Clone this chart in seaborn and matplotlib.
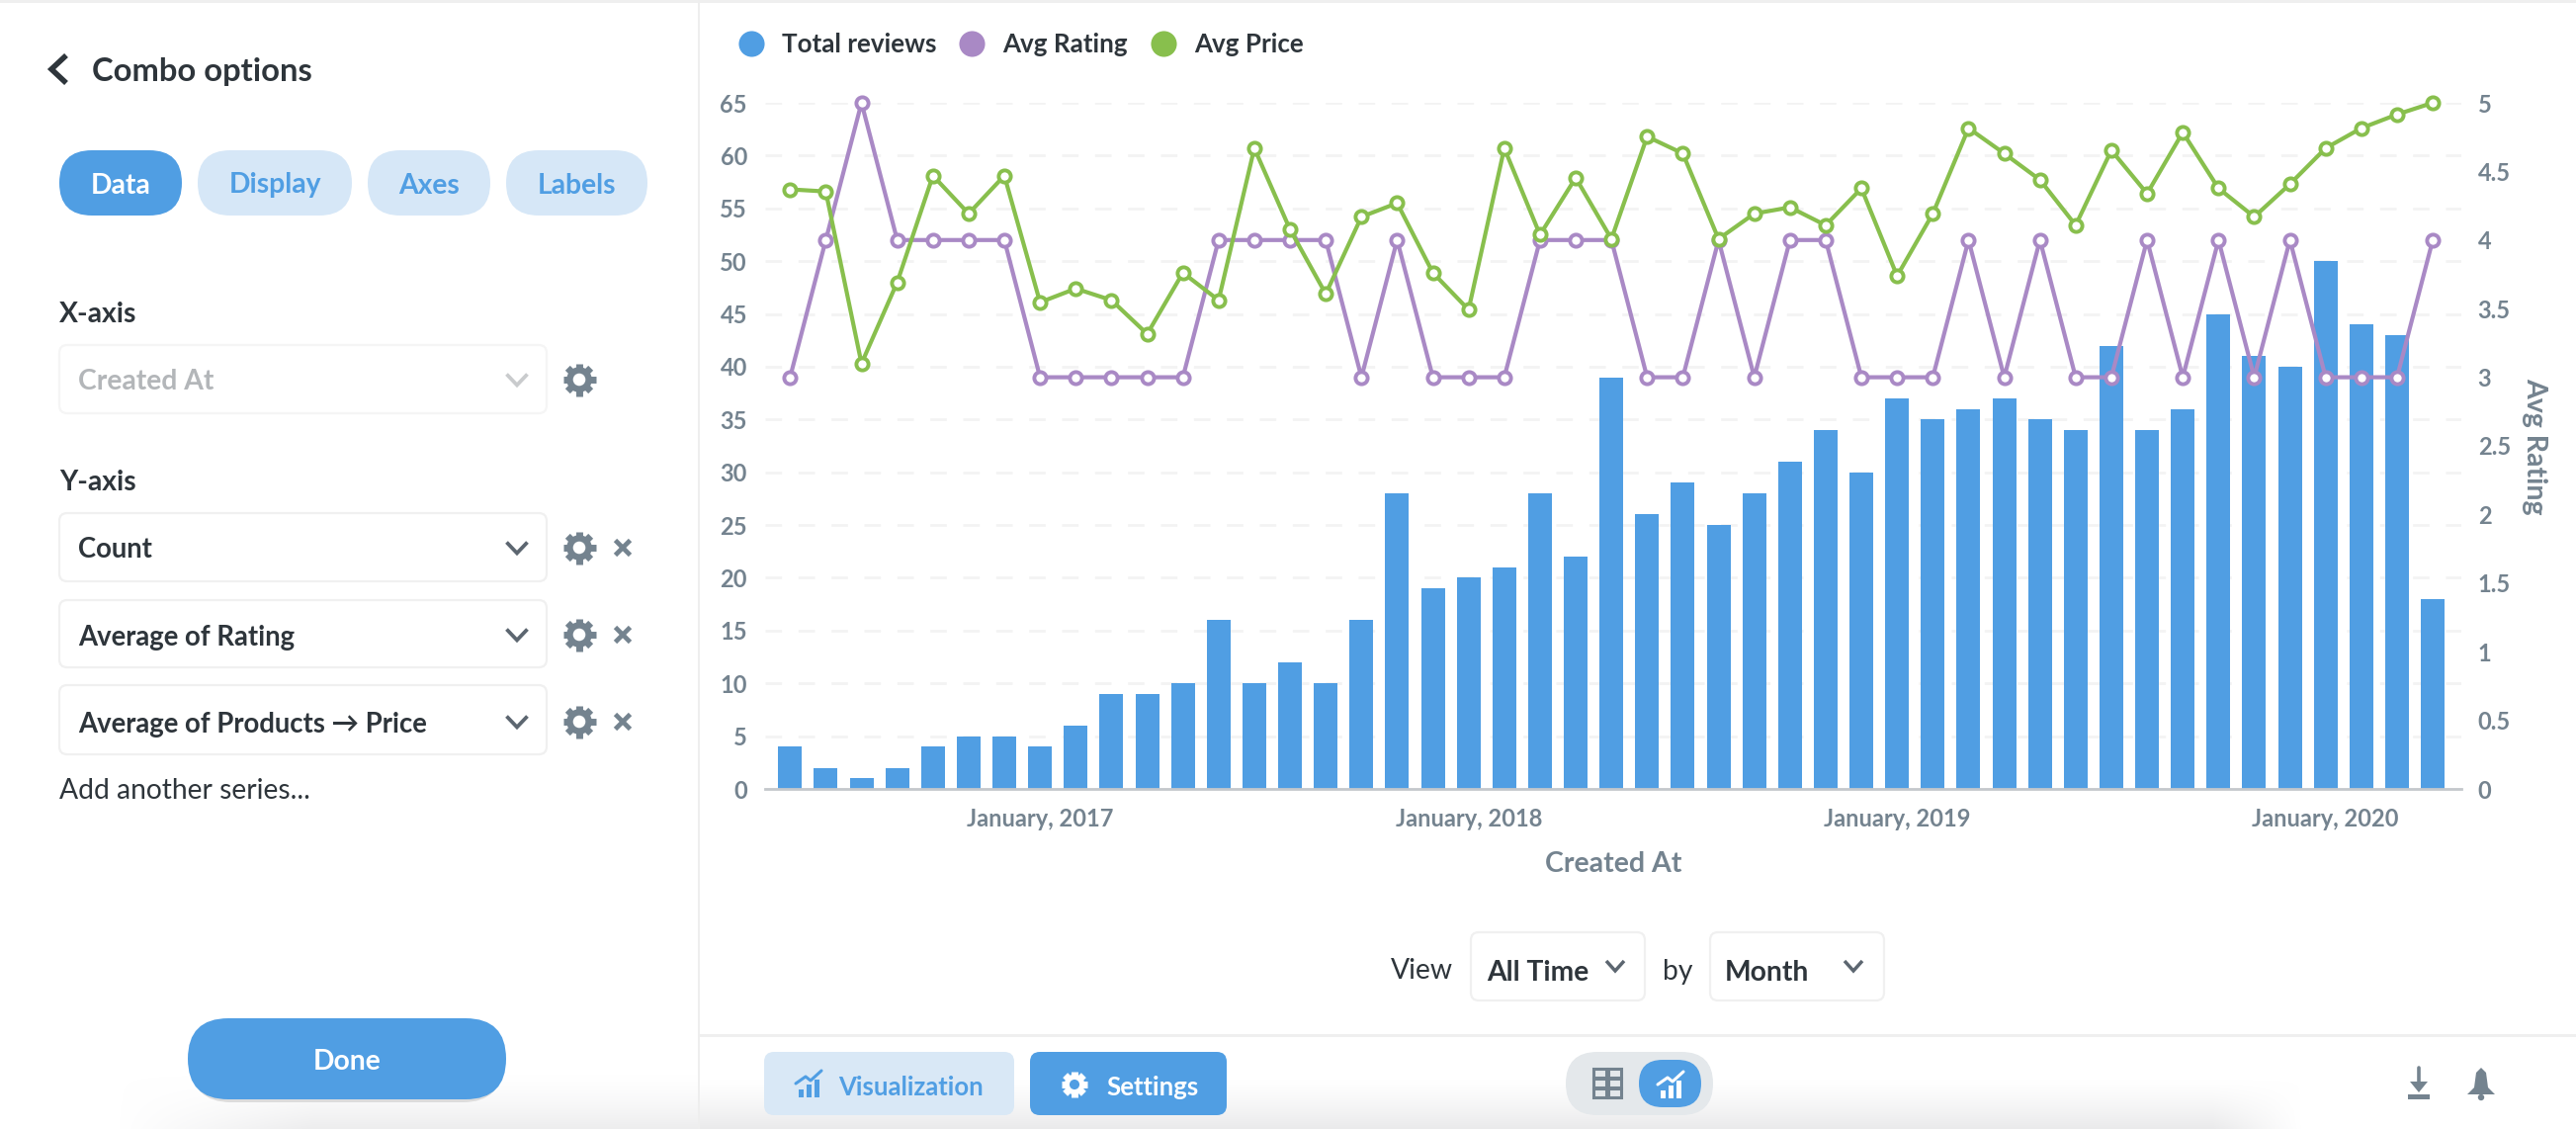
import numpy as np
import pandas as pd
import matplotlib
matplotlib.use("Agg")
import matplotlib.pyplot as plt
import seaborn as sns
from matplotlib.lines import Line2D
from matplotlib.patches import FancyBboxPatch, Circle, Rectangle, Polygon
from matplotlib.ticker import FixedLocator

# ---- data ----
months = pd.date_range("2016-06-01", periods=47, freq="MS").strftime("%Y-%m").tolist()
total_reviews = [4, 2, 1, 2, 4, 5, 5, 4, 6, 9, 9, 10, 16, 10, 12, 10, 16, 28, 19, 20, 21, 28, 22, 39,
                 26, 29, 25, 28, 31, 34, 30, 37, 35, 36, 37, 35, 34, 42, 34, 36, 45, 41, 40, 50, 44, 43, 18]
avg_rating = [3, 4, 5, 4, 4, 4, 4, 3, 3, 3, 3, 3, 4, 4, 4, 4, 3, 4, 3, 3, 3, 4, 4, 4,
              3, 3, 4, 3, 4, 4, 3, 3, 3, 4, 3, 4, 3, 3, 4, 3, 4, 3, 4, 3, 3, 3, 4]
avg_price = [56.8, 56.6, 40.3, 48.0, 58.1, 54.5, 58.1, 46.1, 47.4, 46.3, 43.1, 48.9, 46.3, 60.7, 53.0,
             46.9, 54.2, 55.5, 48.9, 45.4, 60.7, 52.5, 57.9, 52.1, 61.8, 60.2, 52.1, 54.5, 55.1, 53.4,
             56.9, 48.6, 54.5, 62.6, 60.2, 57.7, 53.4, 60.5, 56.4, 62.2, 56.9, 54.2, 57.3, 60.7, 62.6, 63.9, 65.0]
left_ticks = list(range(0, 70, 5))
right_ticks = [0, 0.5, 1, 1.5, 2, 2.5, 3, 3.5, 4, 4.5, 5]
right_labels = ["0", "0.5", "1", "1.5", "2", "2.5", "3", "3.5", "4", "4.5", "5"]
x_tick_months = ["2017-01", "2018-01", "2019-01", "2020-01"]
x_tick_labels = ["January, 2017", "January, 2018", "January, 2019", "January, 2020"]
series_names = ["Total reviews", "Avg Rating", "Avg Price"]
y_fields = ["Count", "Average of Rating", "Average of Products \u2192 Price"]

BLUE, PURPLE, GREEN = "#509ee3", "#a989c5", "#88bf4d"
DARK, GRAY, LINE = "#2e353b", "#74838f", "#f0f0f0"
PALE = "#d6e7f7"
UI = 20.3

sns.set_theme(style="white")
plt.rcParams["font.family"] = ["Lato", "DejaVu Sans"]

fig = plt.figure(figsize=(26.06, 11.42), dpi=100, facecolor="white")

# ---- application chrome, in pixel coordinates ----
bg = fig.add_axes([0, 0, 1, 1], zorder=0)
bg.set_axis_off()

fade_v = np.clip((np.linspace(0, 1, 100) - 0.45) / 0.55, 0, 1)[:, None] ** 1.3
fade_h = np.clip((2330 - np.linspace(708, 2606, 400)) / 90, 0, 1)[None, :]
rgba = np.ones((100, 400, 4)) * np.array([0.92, 0.92, 0.925, 1])
rgba[..., 3] = fade_v * fade_h
bg.imshow(rgba, extent=(708, 2606, 1142, 1050), aspect="auto", zorder=0)
rgba2 = np.ones((60, 200, 4)) * np.array([0.93, 0.93, 0.935, 1])
rgba2[..., 3] = (np.linspace(0, 1, 60) ** 1.5)[:, None] * np.clip(np.linspace(-0.1, 3.0, 200), 0, 1)[None, :]
bg.imshow(rgba2, extent=(100, 708, 1142, 1085), aspect="auto", zorder=0)
bg.set_xlim(0, 2606)
bg.set_ylim(1142, 0)


def box(x0, y0, x1, y1, r, face="white", edge="none", lw=0, z=2):
    p = FancyBboxPatch((x0 + r, y0 + r), x1 - x0 - 2 * r, y1 - y0 - 2 * r,
                       boxstyle=f"round,pad={r},rounding_size={r}",
                       facecolor=face, edgecolor=edge, linewidth=lw, zorder=z)
    bg.add_patch(p)


def label(x, y, s, size, color=DARK, weight="normal", ha="left"):
    bg.text(x, y, s, fontsize=size, color=color, fontweight=weight, ha=ha, va="center_baseline", zorder=5)


def chevron(x, y, color="#5c6670", w=10.5, h=5.5, lw=2.7):
    bg.plot([x - w, x, x + w], [y - h, y + h, y - h], color=color, lw=lw, zorder=5,
            solid_capstyle="butt", solid_joinstyle="miter")


def gear(x, y, r=15, color=GRAY, hole="white"):
    for a in np.arange(0, np.pi, np.pi / 4):
        dx, dy = np.cos(a) * r * 1.1, np.sin(a) * r * 1.1
        bg.plot([x - dx, x + dx], [y - dy, y + dy], color=color, lw=5, zorder=5, solid_capstyle="butt")
    bg.add_patch(Circle((x, y), r * 0.85, facecolor=color, edgecolor="none", zorder=5))
    bg.add_patch(Circle((x, y), r * 0.42, facecolor=hole, edgecolor="none", zorder=6))


def cross(x, y, color=GRAY, s=7.5):
    bg.plot([x - s, x + s], [y - s, y + s], color=color, lw=3.4, zorder=5, solid_capstyle="butt")
    bg.plot([x - s, x + s], [y + s, y - s], color=color, lw=3.4, zorder=5, solid_capstyle="butt")


def chart_icon(x, y, color):
    for dx, h in ((-10, 8), (-2, 13), (6, 18)):
        bg.add_patch(Rectangle((x + dx, y + 13 - h), 5, h, facecolor=color, edgecolor="none", zorder=6))
    bg.plot([x - 13, x - 3, x + 2, x + 13], [y - 1, y - 8, y - 4, y - 14], color=color, lw=2.2, zorder=6)


# borders
bg.add_patch(Rectangle((0, 0), 2606, 2.5, facecolor="#efefef", edgecolor="none", zorder=1))
bg.add_patch(Rectangle((706, 0), 2, 1142, facecolor="#eeeeee", edgecolor="none", zorder=1))
bg.add_patch(Rectangle((708, 1046), 1898, 2.5, facecolor="#efefef", edgecolor="none", zorder=1))

# left panel
bg.plot([67, 52, 67], [56, 70, 84], color=DARK, lw=4, zorder=5, solid_joinstyle="miter", solid_capstyle="butt")
label(93, 70, "Combo options", 23.6, weight="bold")
for (x0, x1, t, act) in [(60, 184, "Data", True), (200, 356, "Display", False),
                         (372, 496, "Axes", False), (512, 655, "Labels", False)]:
    box(x0, 152, x1, 218, 33, face=BLUE if act else PALE)
    label((x0 + x1) / 2, 185, t, UI, color="white" if act else BLUE, weight="bold", ha="center")

label(60, 316, "X-axis", UI, weight="bold")
box(60, 349, 553, 418, 8, edge="#f5f5f5", lw=1.6)
label(79, 384, "Created At", UI, color="#b3b6b9", weight="bold")
chevron(523, 384, color="#c9cbcd")
gear(586, 384)

label(60, 486, "Y-axis", UI, weight="bold")
for (y0, y1, yc, t) in zip((519, 607, 693), (588, 675, 763), (554, 642, 730), y_fields):
    box(60, y0, 553, y1, 8, edge="#f0f0f0", lw=1.6)
    label(79, yc, t, 19.8, weight="bold")
    chevron(523, yc)
    gear(586, yc)
    cross(630, yc)
label(60, 798, "Add another series...", UI)

box(193, 1034, 509, 1115, 41, face="#dcdcdc", z=1)
box(190, 1030, 512, 1112, 41, face=BLUE)
label(351, 1072, "Done", UI, color="white", weight="bold", ha="center")

# time controls
label(1407, 980, "View", UI)
box(1488, 943, 1664, 1012, 8, edge="#f0f0f0", lw=1.6)
label(1504, 981, "All Time", UI, weight="bold")
chevron(1634, 977, w=9, h=5, lw=2.5)
label(1682, 980, "by", UI)
box(1730, 943, 1906, 1012, 8, edge="#f0f0f0", lw=1.6)
label(1745, 981, "Month", UI, weight="bold")
chevron(1875, 977, w=9, h=5, lw=2.5)

# footer
box(773, 1064, 1026, 1128, 10, face="#d9e8f6")
chart_icon(818, 1097, BLUE)
label(848, 1098, "Visualization", 18.5, color=BLUE, weight="bold")
box(1042, 1064, 1241, 1128, 10, face=BLUE)
gear(1087, 1097, r=12, color="white", hole=BLUE)
label(1119, 1098, "Settings", 18.5, color="white", weight="bold")
box(1584, 1064, 1733, 1128, 32, face="#e4e8eb")
for yy in (1081, 1091, 1101):
    for xx in (1612, 1627):
        bg.add_patch(Rectangle((xx, yy), 13, 8.5, facecolor="none", edgecolor=GRAY, linewidth=2.2, zorder=5))
box(1658, 1072, 1721, 1120, 24, face=BLUE)
chart_icon(1690, 1098, "white")
bg.plot([2447, 2447], [1080, 1098], color=GRAY, lw=2.6, zorder=5)
bg.add_patch(Polygon([[2438, 1094], [2456, 1094], [2447, 1105]], facecolor=GRAY, edgecolor="none", zorder=5))
bg.add_patch(Rectangle((2436, 1107), 22, 4.5, facecolor=GRAY, edgecolor="none", zorder=5))
bg.add_patch(Polygon([[2510, 1080], [2515, 1085], [2517, 1100], [2524, 1107], [2496, 1107], [2503, 1100], [2505, 1085]],
                     facecolor=GRAY, edgecolor="none", zorder=5))
bg.add_patch(Circle((2510, 1110), 3.2, facecolor=GRAY, edgecolor="none", zorder=5))

# ---- chart ----
W, H = 2606, 1142
rect = [774 / W, (H - 798) / H, 1716 / W, 694 / H]
ax = fig.add_axes(rect, zorder=2)
ax.patch.set_alpha(0)

df = pd.DataFrame({"month": months, "pos": np.arange(len(months)), "reviews": total_reviews,
                   "rating": avg_rating, "price": avg_price})

sns.barplot(data=df, x="pos", y="reviews", color=BLUE, saturation=1, width=0.665, linewidth=0,
            native_scale=True, ax=ax, zorder=2)
XMIN, XMAX = -0.7, 46.8
ax.set_xlim(XMIN, XMAX)
ax.set_ylim(0, 65)
ax.set_axisbelow(True)
ax.yaxis.grid(True, color="#f3f3f3", lw=2, dashes=(6, 6))
ax.xaxis.grid(False)
ax.set_yticks(left_ticks)
ax.set_yticklabels([str(v) for v in left_ticks])
ax.set_xticks([months.index(m) for m in x_tick_months])
ax.set_xticklabels(x_tick_labels)
ax.xaxis.set_minor_locator(FixedLocator([XMIN, XMAX]))
ax.tick_params(axis="x", which="minor", length=8.5, width=1.2, color="#c4c8cc")
ax.tick_params(axis="x", which="major", length=0, pad=14)
ax.tick_params(axis="y", which="major", length=0, pad=13)
for t in ax.get_xticklabels() + ax.get_yticklabels():
    t.set_fontsize(17)
    t.set_fontweight("bold")
    t.set_color(GRAY)
for s in ("left", "right", "top"):
    ax.spines[s].set_visible(False)
ax.spines["bottom"].set_color("#c4c8cc")
ax.spines["bottom"].set_linewidth(2)
ax.set_xlabel("Created At", fontsize=20.5, fontweight="bold", color=GRAY, labelpad=15)
ax.set_ylabel("")

line_style = dict(marker="o", markersize=8.8, markeredgewidth=2.8, markerfacecolor="white",
                  linewidth=3, errorbar=None, clip_on=False)

ax2 = ax.twinx()
ax2.patch.set_alpha(0)
sns.lineplot(data=df, x="pos", y="rating", color=PURPLE, markeredgecolor=PURPLE, ax=ax2, **line_style)
ax2.set_ylim(0, 4.975)
ax2.set_yticks(right_ticks)
ax2.set_yticklabels(right_labels)
ax2.tick_params(axis="y", length=0, pad=12)
for t in ax2.get_yticklabels():
    t.set_fontsize(17)
    t.set_fontweight("bold")
    t.set_color(GRAY)
ax2.grid(False)
for s in ax2.spines.values():
    s.set_visible(False)
ax2.set_ylabel("Avg Rating", fontsize=20.5, fontweight="bold", color=GRAY, rotation=270, labelpad=27)
ax2.set_xlabel("")

ax3 = ax.twinx()
ax3.patch.set_alpha(0)
sns.lineplot(data=df, x="pos", y="price", color=GREEN, markeredgecolor=GREEN, ax=ax3, **line_style)
ax3.set_ylim(0, 65)
ax3.set_axis_off()
ax3.set_xlim(XMIN, XMAX)

handles = [Line2D([], [], linestyle="none", marker="o", markersize=18.8, markeredgewidth=0, color=c)
           for c in (BLUE, PURPLE, GREEN)]
fig.legend(handles, series_names, loc="center left", bbox_to_anchor=(747 / W, 1 - 45 / H), ncol=3,
           frameon=False, prop={"size": 18.7, "weight": "bold"}, labelcolor=DARK, borderpad=0,
           borderaxespad=0, handlelength=1, handletextpad=0.68, columnspacing=0.9)

fig.savefig("out.png", dpi=100, facecolor="white")
